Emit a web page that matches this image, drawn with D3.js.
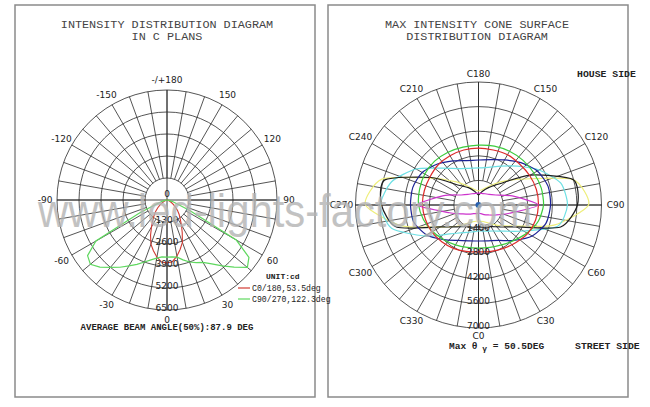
<!DOCTYPE html>
<html>
<head>
<meta charset="utf-8">
<script src="https://cdn.jsdelivr.net/npm/d3@7"></script>
<style>
body { margin: 0; background: #fff; }
svg { display: block; }
</style>
</head>
<body>
<script>
// ---- left diagram: intensity (cd) per gamma, C planes ----
var gammaAngles = [0, 5, 10, 15, 20, 25, 30, 35, 40, 45, 50, 55, 60, 65, 70, 75, 80, 85, 90];
var c0Values   = [3720, 3660, 3370, 3010, 2660, 2130, 1710, 1360, 1120, 880, 650, 470, 300, 180, 120, 60, 60, 0, 0];
var c180Values = [3720, 3680, 3430, 3100, 2780, 2300, 1830, 1480, 1180, 950, 710, 500, 320, 190, 120, 60, 60, 0, 0];
var c90Values  = [3370, 3370, 3430, 3660, 3900, 4080, 4250, 4610, 5080, 5610, 6200, 5910, 4730, 1480, 590, 300, 120, 60, 0];
var c270Values = [3370, 3370, 3490, 3660, 3900, 4200, 4490, 4850, 5200, 5610, 5910, 5730, 4850, 1770, 590, 300, 120, 60, 0];
var leftRings = [1300, 2600, 3900, 5200, 6500];
var leftAngleTicks = [0, 30, 60, 90, 120, 150, 180, -150, -120, -90, -60, -30];
var leftAngleNames = ["0", "30", "60", "90", "120", "150", "-/+180", "-150", "-120", "-90", "-60", "-30"];
var legendNames = ["C0/180,53.5deg", "C90/270,122.3deg"];

// ---- right diagram: cone surfaces, intensity (cd) per C angle ----
var cAngles = [0, 15, 30, 45, 60, 75, 90, 105, 120, 135, 150, 165, 180, 195, 210, 225, 240, 255, 270, 285, 300, 315, 330, 345];
var yellowCone  = [910, 970, 1200, 1650, 2390, 4440, 6260, 5580, 2960, 1880, 1250, 910, 800, 910, 1250, 1880, 3070, 5690, 6430, 4550, 2500, 1710, 1200, 970];
var cyanCone    = [1480, 1540, 1710, 2110, 2960, 4670, 5060, 4840, 3980, 3130, 2560, 2220, 2110, 2160, 2390, 2960, 4100, 5120, 5580, 5120, 3530, 2330, 1820, 1590];
var blackCone   = [1250, 1310, 1420, 1760, 2500, 4840, 5630, 5580, 3410, 1710, 1140, 800, 570, 800, 1140, 1590, 3130, 5520, 5520, 4840, 2500, 1760, 1420, 1310];
var blueCone    = [2050, 2110, 2330, 2850, 3530, 3980, 4100, 4100, 3870, 3410, 2960, 2670, 2560, 2620, 2900, 3300, 3700, 3870, 3870, 3810, 3410, 2790, 2330, 2110];
var greenCone   = [2450, 2500, 2620, 2850, 3190, 3530, 3700, 3700, 3640, 3590, 3530, 3470, 3410, 3410, 3470, 3530, 3530, 3470, 3410, 3240, 3020, 2790, 2620, 2500];
var redCone     = [2670, 2730, 2850, 3020, 3240, 3360, 3410, 3410, 3360, 3300, 3300, 3240, 3240, 3240, 3240, 3240, 3190, 3190, 3190, 3130, 3070, 2960, 2850, 2730];
var magentaCone = [460, 510, 630, 800, 1140, 1820, 3410, 1990, 1140, 850, 740, 680, 680, 680, 740, 850, 1140, 2050, 3470, 1710, 1020, 740, 570, 510];
var rightRings = [1400, 2800, 4200, 5600, 7000];
var rightAngleTicks = [0, 30, 60, 90, 120, 150, 180, 210, 240, 270, 300, 330];

var svg = d3.select("body").append("svg")
  .attr("width", 650)
  .attr("height", 407);

// panel frames
svg.append("rect").attr("x", 15).attr("y", 5).attr("width", 300).attr("height", 392)
  .attr("fill", "none").attr("stroke", "#8a8a8a").attr("stroke-width", 1.5);
svg.append("rect").attr("x", 328).attr("y", 5).attr("width", 300).attr("height", 392)
  .attr("fill", "none").attr("stroke", "#8a8a8a").attr("stroke-width", 1.5);

function toRad(deg) { return Math.PI - deg * Math.PI / 180; }

// labelR: base radius, labelW: extra radius at the sides
function polarGrid(g, r, rings, labelR, labelW, ticks, names) {
  var R = r.range()[1];
  g.selectAll(".ring").data(rings).enter().append("circle")
    .attr("r", function(d) { return r(d); })
    .attr("fill", "none").attr("stroke", "#2a2a2a").attr("stroke-width", 0.8);
  var spokes = d3.range(0, 360, 10);
  g.selectAll(".spoke").data(spokes).enter().append("line")
    .attr("x1", function(d) { return r(rings[0]) * Math.sin(toRad(d)); })
    .attr("y1", function(d) { return -r(rings[0]) * Math.cos(toRad(d)); })
    .attr("x2", function(d) { return R * Math.sin(toRad(d)); })
    .attr("y2", function(d) { return -R * Math.cos(toRad(d)); })
    .attr("stroke", "#2a2a2a").attr("stroke-width", 0.8);
  g.append("line").attr("x1", -R).attr("x2", R).attr("stroke", "#2a2a2a").attr("stroke-width", 0.9);
  g.append("line").attr("y1", -R).attr("y2", R).attr("stroke", "#2a2a2a").attr("stroke-width", 0.9);
  function lr(d) { return labelR + labelW * Math.abs(Math.sin(toRad(d))); }
  g.selectAll(".alabel").data(ticks).enter().append("text")
    .attr("x", function(d) { return lr(d) * Math.sin(toRad(d)); })
    .attr("y", function(d) { return -lr(d) * Math.cos(toRad(d)); })
    .attr("dy", "0.35em")
    .attr("text-anchor", "middle")
    .attr("font-family", "DejaVu Sans").attr("font-size", 9).attr("fill", "#222")
    .text(function(d, i) { return names[i]; });
}

function ringLabels(g, r, rings) {
  g.selectAll(".rlabel").data(rings).enter().append("text")
    .attr("x", 0)
    .attr("y", function(d) { return r(d) + 1; })
    .attr("text-anchor", "middle")
    .attr("font-family", "DejaVu Sans").attr("font-size", 9).attr("fill", "#222")
    .text(function(d) { return d; });
}

var mono = "Liberation Mono";

// ---------- left panel ----------
svg.append("text").attr("x", 167).attr("y", 28).attr("text-anchor", "middle")
  .attr("font-family", mono).attr("font-size", 11.8).attr("fill", "#444")
  .text("INTENSITY DISTRIBUTION DIAGRAM");
svg.append("text").attr("x", 167).attr("y", 40).attr("text-anchor", "middle")
  .attr("font-family", mono).attr("font-size", 11.8).attr("fill", "#444")
  .text("IN C PLANS");

var rL = d3.scaleLinear().domain([0, 6500]).range([0, 110]);
var gL = svg.append("g").attr("transform", "translate(167,200)");
polarGrid(gL, rL, leftRings, 120, 2, leftAngleTicks, leftAngleNames);

var lineL = d3.lineRadial()
  .angle(function(d) { return toRad(d[0]); })
  .radius(function(d) { return rL(d[1]); });

function halfPlanes(right, left) {
  var pts = [];
  gammaAngles.slice().reverse().forEach(function(a, i) { pts.push([-a, left[gammaAngles.length - 1 - i]]); });
  gammaAngles.forEach(function(a, i) { pts.push([a, right[i]]); });
  return pts;
}

gL.append("path").datum(halfPlanes(c0Values, c180Values))
  .attr("d", lineL).attr("fill", "none").attr("stroke", "#d23a32").attr("stroke-width", 1.1);
gL.append("path").datum(halfPlanes(c90Values, c270Values))
  .attr("d", lineL).attr("fill", "none").attr("stroke", "#5fd85f").attr("stroke-width", 1.2);

ringLabels(gL, rL, leftRings);
gL.append("text").attr("x", 0).attr("y", -3).attr("text-anchor", "middle")
  .attr("font-family", "DejaVu Sans").attr("font-size", 9).attr("fill", "#222").text("0");

svg.append("text").attr("x", 266).attr("y", 279)
  .attr("font-family", mono).attr("font-size", 8).attr("font-weight", "bold").attr("fill", "#222")
  .text("UNIT:cd");
var legendColors = ["#d23a32", "#5fd85f"];
var legend = svg.selectAll(".legend").data(legendNames).enter().append("g")
  .attr("transform", function(d, i) { return "translate(238," + (288 + i * 11) + ")"; });
legend.append("line").attr("x1", 0).attr("x2", 12)
  .attr("stroke", function(d, i) { return legendColors[i]; }).attr("stroke-width", 1.2);
legend.append("text").attr("x", 14).attr("y", 3)
  .attr("font-family", mono).attr("font-size", 8.2).attr("fill", "#222")
  .text(function(d) { return d; });

svg.append("text").attr("x", 167).attr("y", 330).attr("text-anchor", "middle")
  .attr("font-family", mono).attr("font-size", 9).attr("font-weight", "bold").attr("fill", "#222")
  .text("AVERAGE BEAM ANGLE(50%):87.9 DEG");

// ---------- right panel ----------
svg.append("text").attr("x", 477).attr("y", 28).attr("text-anchor", "middle")
  .attr("font-family", mono).attr("font-size", 11.8).attr("fill", "#444")
  .text("MAX INTENSITY CONE SURFACE");
svg.append("text").attr("x", 477).attr("y", 40).attr("text-anchor", "middle")
  .attr("font-family", mono).attr("font-size", 11.8).attr("fill", "#444")
  .text("DISTRIBUTION DIAGRAM");

var rR = d3.scaleLinear().domain([0, 7000]).range([0, 123]);
var gR = svg.append("g").attr("transform", "translate(478.5,205)");
polarGrid(gR, rR, rightRings, 131, 6, rightAngleTicks, rightAngleTicks.map(function(d) { return "C" + d; }));

var lineR = d3.lineRadial()
  .angle(function(d) { return toRad(d[0]); })
  .radius(function(d) { return rR(d[1]); })
  .curve(d3.curveCardinalClosed.tension(0.3));

var cones = [
  { values: yellowCone, color: "#eeee7a" },
  { values: cyanCone, color: "#6ee0e4" },
  { values: blackCone, color: "#1e1e1e" },
  { values: blueCone, color: "#1c2296" },
  { values: greenCone, color: "#3ccc3c" },
  { values: redCone, color: "#dd2a2a" },
  { values: magentaCone, color: "#cc33cc" }
];
gR.selectAll(".cone").data(cones).enter().append("path")
  .attr("d", function(d) { return lineR(cAngles.map(function(a, i) { return [a, d.values[i]]; })); })
  .attr("fill", "none")
  .attr("stroke", function(d) { return d.color; })
  .attr("stroke-width", 1.2);

ringLabels(gR, rR, rightRings);
gR.append("circle").attr("r", 3).attr("fill", "#2a5fb0");

svg.append("text").attr("x", 577).attr("y", 77)
  .attr("font-family", mono).attr("font-size", 9.8).attr("font-weight", "bold").attr("fill", "#222")
  .text("HOUSE SIDE");
svg.append("text").attr("x", 575).attr("y", 349)
  .attr("font-family", mono).attr("font-size", 9.8).attr("font-weight", "bold").attr("fill", "#222")
  .text("STREET SIDE");
var maxText = svg.append("text").attr("x", 449).attr("y", 349)
  .attr("font-family", mono).attr("font-size", 9.5).attr("font-weight", "bold").attr("fill", "#222");
maxText.append("tspan").text("Max θ");
maxText.append("tspan").attr("dy", 2).attr("font-size", 8).text(" γ");
maxText.append("tspan").attr("dy", -2).text(" = 50.5DEG");

// watermark
svg.append("text").attr("x", 38).attr("y", 227)
  .attr("font-family", "Liberation Sans").attr("font-size", 46)
  .attr("textLength", 494).attr("lengthAdjust", "spacingAndGlyphs")
  .attr("fill", "#b4b4b4").attr("opacity", 0.8)
  .text("www.led-lights-factory.com");
</script>
</body>
</html>
